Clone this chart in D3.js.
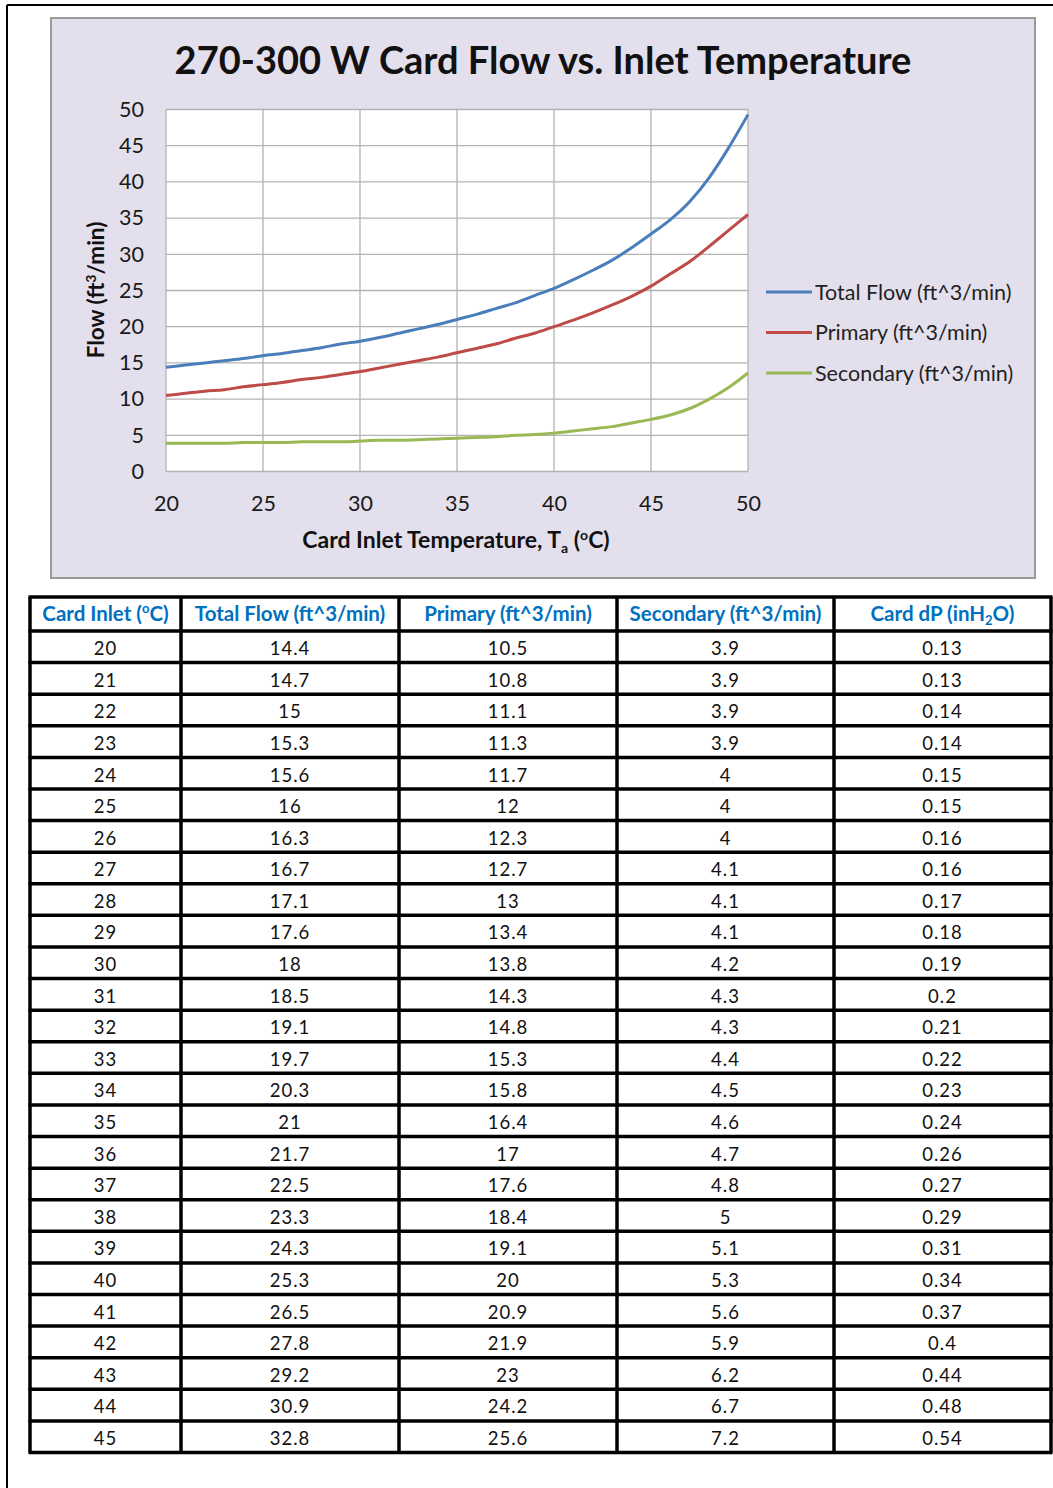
<!DOCTYPE html>
<html>
<head>
<meta charset="utf-8">
<script src="https://cdn.jsdelivr.net/npm/d3@7"></script>
<style>
  html, body { margin: 0; padding: 0; background: #ffffff; }
  svg { display: block; }
  text { font-family: Lato, "Open Sans", sans-serif; }
</style>
</head>
<body>
<script>
// Card inlet temperature (°C) and flow table values
const inletTemps   = [20,21,22,23,24,25,26,27,28,29,30,31,32,33,34,35,36,37,38,39,40,41,42,43,44,45];
const totalFlow    = [14.4,14.7,15,15.3,15.6,16,16.3,16.7,17.1,17.6,18,18.5,19.1,19.7,20.3,21,21.7,22.5,23.3,24.3,25.3,26.5,27.8,29.2,30.9,32.8];
const primaryFlow  = [10.5,10.8,11.1,11.3,11.7,12,12.3,12.7,13,13.4,13.8,14.3,14.8,15.3,15.8,16.4,17,17.6,18.4,19.1,20,20.9,21.9,23,24.2,25.6];
const secondaryFlow= [3.9,3.9,3.9,3.9,4,4,4,4.1,4.1,4.1,4.2,4.3,4.3,4.4,4.5,4.6,4.7,4.8,5,5.1,5.3,5.6,5.9,6.2,6.7,7.2];
const cardDP       = [0.13,0.13,0.14,0.14,0.15,0.15,0.16,0.16,0.17,0.18,0.19,0.2,0.21,0.22,0.23,0.24,0.26,0.27,0.29,0.31,0.34,0.37,0.4,0.44,0.48,0.54];

// Curve continuation beyond the table (46–50 °C)
const extraTemps     = [46,47,48,49,50];
const extraTotal     = [34.8,37.3,40.6,44.7,49.3];
const extraPrimary   = [27.3,29.0,31.1,33.3,35.5];
const extraSecondary = [7.8,8.7,10.0,11.6,13.6];

const xTicks = [20,25,30,35,40,45,50];
const yTicks = [0,5,10,15,20,25,30,35,40,45,50];

const seriesNames  = ["Total Flow (ft^3/min)", "Primary (ft^3/min)", "Secondary (ft^3/min)"];
const seriesColors = ["#4a7ebb", "#be4b48", "#98b954"];

const W = 1053, H = 1488;
const svg = d3.select("body").append("svg").attr("width", W).attr("height", H);

// page frame
svg.append("line").attr("x1", 7).attr("x2", W).attr("y1", 5).attr("y2", 5)
  .attr("stroke", "#000").attr("stroke-width", 2);
svg.append("line").attr("x1", 7).attr("x2", 7).attr("y1", 5).attr("y2", H)
  .attr("stroke", "#000").attr("stroke-width", 2);

// chart panel
svg.append("rect").attr("x", 51).attr("y", 18).attr("width", 984).attr("height", 560)
  .attr("fill", "#e4dfec").attr("stroke", "#9a9a9a").attr("stroke-width", 2);

const x = d3.scaleLinear().domain([20, 50]).range([166, 748]);
const y = d3.scaleLinear().domain([0, 50]).range([471.5, 109.5]);

const plot = svg.append("g");
plot.append("rect").attr("x", x(20)).attr("y", y(50))
  .attr("width", x(50) - x(20)).attr("height", y(0) - y(50)).attr("fill", "#fff");

// gridlines
plot.selectAll(".hg").data(yTicks).join("line")
  .attr("x1", x(20)).attr("x2", x(50)).attr("y1", d => y(d)).attr("y2", d => y(d))
  .attr("stroke", "#b3b3b3").attr("stroke-width", 1.3);
plot.selectAll(".vg").data(xTicks).join("line")
  .attr("y1", y(0)).attr("y2", y(50)).attr("x1", d => x(d)).attr("x2", d => x(d))
  .attr("stroke", "#b3b3b3").attr("stroke-width", 1.3);

// axes (labels only; grid forms the frame)
const yAxis = svg.append("g").attr("transform", `translate(${x(20)},0)`)
  .call(d3.axisLeft(y).tickValues(yTicks).tickSize(0).tickPadding(22));
const xAxis = svg.append("g").attr("transform", `translate(0,${y(0)})`)
  .call(d3.axisBottom(x).tickValues(xTicks).tickSize(0).tickPadding(24));
[yAxis, xAxis].forEach(a => {
  a.select(".domain").remove();
  a.selectAll("text").attr("font-family", "Lato, sans-serif").attr("font-size", 21.5)
    .attr("fill", "#1a1a1a");
});

// series lines
const temps = inletTemps.concat(extraTemps);
const series = [
  totalFlow.concat(extraTotal),
  primaryFlow.concat(extraPrimary),
  secondaryFlow.concat(extraSecondary)
];
const line = d3.line().x((d, i) => x(temps[i])).y(d => y(d)).curve(d3.curveMonotoneX);
series.forEach((vals, k) => {
  svg.append("path").datum(vals).attr("d", line)
    .attr("fill", "none").attr("stroke", seriesColors[k]).attr("stroke-width", 3)
    .attr("stroke-linejoin", "round");
});

// title
svg.append("text").attr("x", 543).attr("y", 74).attr("text-anchor", "middle")
  .attr("font-size", 38).attr("font-weight", 700).attr("fill", "#111")
  .text("270-300 W Card Flow vs. Inlet Temperature");

// mixed text with raised / lowered pieces
function richText(t, parts, small, up, down) {
  let shift = 0;
  parts.forEach(p => {
    const s = t.append("tspan");
    let target = 0, txt = p, size = null;
    if (typeof p !== "string") {
      txt = p.sup || p.sub;
      target = p.sup ? -up : down;
      size = small;
    }
    s.attr("dy", target - shift).text(txt);
    if (size) s.attr("font-size", size);
    shift = target;
  });
}

// x axis title
const xt = svg.append("text").attr("x", 456).attr("y", 548).attr("text-anchor", "middle")
  .attr("font-size", 23).attr("font-weight", 700).attr("fill", "#111");
richText(xt, ["Card Inlet Temperature, T", {sub: "a"}, " (", {sup: "o"}, "C)"], 14, 8, 5);

// y axis title
const yt = svg.append("text").attr("transform", "translate(104,290) rotate(-90)")
  .attr("text-anchor", "middle").attr("font-size", 22.5).attr("font-weight", 700).attr("fill", "#111");
richText(yt, ["Flow (ft", {sup: "3"}, "/min)"], 14, 8, 5);

// legend
const legendY = d3.scalePoint().domain(seriesNames).range([292, 373]);
const lg = svg.append("g");
lg.selectAll("line").data(seriesNames).join("line")
  .attr("x1", 766).attr("x2", 812).attr("y1", d => legendY(d)).attr("y2", d => legendY(d))
  .attr("stroke", (d, i) => seriesColors[i]).attr("stroke-width", 3);
lg.selectAll("text").data(seriesNames).join("text")
  .attr("x", 815).attr("y", d => legendY(d)).attr("dy", "0.35em")
  .attr("font-size", 21.5).attr("fill", "#222").text(d => d);

// ---- data table ----
const colEdges = [30, 181, 399, 617, 834, 1051];
const headTop = 597, headBottom = 631;
const rowY = d3.scaleLinear().domain([0, inletTemps.length]).range([headBottom, 1452.5]);
const tbl = svg.append("g");

const headBlue = "#0070c0";
const headers = [
  ["Card Inlet (", {sup: "o"}, "C)"],
  ["Total Flow (ft^3/min)"],
  ["Primary (ft^3/min)"],
  ["Secondary (ft^3/min)"],
  ["Card dP (inH", {sub: "2"}, "O)"]
];
headers.forEach((parts, c) => {
  const t = tbl.append("text")
    .attr("x", (colEdges[c] + colEdges[c + 1]) / 2).attr("y", 621)
    .attr("text-anchor", "middle").attr("font-size", 20.5).attr("font-weight", 700)
    .attr("fill", headBlue);
  richText(t, parts, 13, 8, 4);
});

const columns = [inletTemps, totalFlow, primaryFlow, secondaryFlow, cardDP];
columns.forEach((col, c) => {
  tbl.selectAll(".c" + c).data(col).join("text")
    .attr("x", (colEdges[c] + colEdges[c + 1]) / 2)
    .attr("y", (d, i) => (rowY(i) + rowY(i + 1)) / 2).attr("dy", "0.45em")
    .attr("text-anchor", "middle").attr("font-size", 18.5).attr("fill", "#111")
    .attr("letter-spacing", 1)
    .text(d => String(d));
});

// grid lines of the table
const hLines = [headTop].concat(d3.range(inletTemps.length + 1).map(i => rowY(i)));
tbl.selectAll(".hl").data(hLines).join("line")
  .attr("x1", colEdges[0] - 1.5).attr("x2", colEdges[5] + 1.5)
  .attr("y1", d => d).attr("y2", d => d)
  .attr("stroke", "#000").attr("stroke-width", 3.5);
tbl.selectAll(".vl").data(colEdges).join("line")
  .attr("x1", d => d).attr("x2", d => d)
  .attr("y1", headTop).attr("y2", rowY(inletTemps.length))
  .attr("stroke", "#000").attr("stroke-width", 3.5);
</script>
</body>
</html>
